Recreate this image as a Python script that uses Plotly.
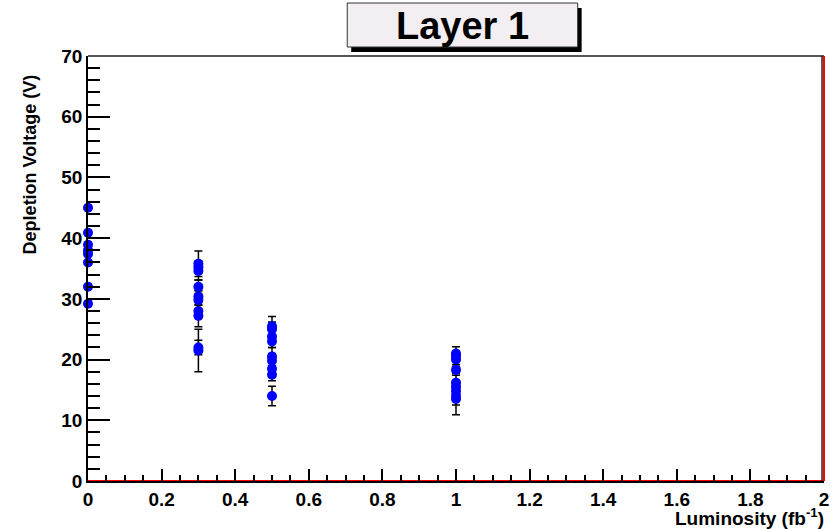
import plotly.graph_objects as go

# Data
lumi_0 = [0.0] * 8
volt_0 = [45.0, 40.9, 38.9, 38.0, 37.4, 36.0, 32.0, 29.2]
err_0 = [0.4, 0.4, 0.4, 0.4, 0.4, 0.4, 0.4, 0.4]

lumi_03 = [0.3] * 10
volt_03 = [35.8, 35.2, 34.6, 32.0, 30.4, 29.8, 28.0, 27.2, 22.0, 21.5]
err_03 = [2.1, 1.0, 1.5, 1.1, 1.0, 1.5, 1.0, 1.8, 1.2, 3.5]

lumi_05 = [0.5] * 9
volt_05 = [25.5, 25.0, 23.8, 23.0, 20.5, 19.8, 18.5, 17.5, 14.0]
err_05 = [1.6, 1.2, 1.0, 1.0, 1.5, 1.2, 1.0, 1.0, 1.6]

lumi_1 = [1.0] * 9
volt_1 = [21.0, 20.6, 20.0, 18.3, 16.2, 15.5, 14.8, 14.0, 13.5]
err_1 = [1.1, 0.8, 0.8, 0.6, 1.2, 1.0, 1.0, 1.5, 2.6]

fit_x = [0.0, 2.0, 2.0]
fit_y = [0.0, 0.0, 70.0]

x_ticks = [0, 0.2, 0.4, 0.6, 0.8, 1.0, 1.2, 1.4, 1.6, 1.8, 2.0]
x_labels = ["0", "0.2", "0.4", "0.6", "0.8", "1", "1.2", "1.4", "1.6", "1.8", "2"]
y_ticks = [0, 10, 20, 30, 40, 50, 60, 70]

lumi = lumi_0 + lumi_03 + lumi_05 + lumi_1
volt = volt_0 + volt_03 + volt_05 + volt_1
errs = err_0 + err_03 + err_05 + err_1

W, H = 838, 529
L, R, T, B = 88, 829, 56, 481
X_MAX, Y_MAX = 2.0, 70.0

fig = go.Figure()
fig.add_trace(go.Scatter(
    x=fit_x, y=fit_y, mode="lines", cliponaxis=False,
    line=dict(color="#ff0000", width=2), showlegend=False, hoverinfo="skip"))
fig.add_trace(go.Scatter(
    x=lumi, y=volt, mode="markers", cliponaxis=False,
    marker=dict(color="#0000ff", size=10, line=dict(width=0)),
    error_y=dict(type="data", array=errs, visible=True, color="black",
                 thickness=1.5, width=4),
    showlegend=False))

font_family = "Liberation Sans, Arial, sans-serif"

def px_x(p):
    return (p - L) / (R - L)

def px_y(p):
    return (B - p) / (B - T)

shapes = [
    # title box shadow
    dict(type="rect", xref="paper", yref="paper",
         x0=px_x(353), x1=px_x(585), y0=px_y(52), y1=px_y(8),
         fillcolor="black", line=dict(width=0), layer="above"),
    # title box
    dict(type="rect", xref="paper", yref="paper",
         x0=px_x(349), x1=px_x(581), y0=px_y(47), y1=px_y(3),
         fillcolor="#f2eef2", line=dict(color="#333333", width=1), layer="above"),
    # top frame line
    dict(type="line", xref="paper", yref="paper",
         x0=0, x1=1, y0=1, y1=1, line=dict(color="#555555", width=2)),
    # right frame (dark) just inside
    dict(type="line", xref="paper", yref="paper",
         x0=px_x(R - 2), x1=px_x(R - 2), y0=0, y1=1,
         line=dict(color="#222222", width=1.5)),
    # vertical part of the red curve (at the axis edge, drawn unclipped)
    dict(type="line", xref="paper", yref="paper",
         x0=fit_x[2] / X_MAX, x1=fit_x[2] / X_MAX,
         y0=fit_y[1] / Y_MAX, y1=fit_y[2] / Y_MAX,
         line=dict(color="#ff0000", width=2)),
]

annotations = [
    dict(text="<b>Layer 1</b>", xref="paper", yref="paper",
         x=px_x(465), y=px_y(26), xanchor="center", yanchor="middle",
         showarrow=False, font=dict(family=font_family, size=38, color="black")),
    dict(text="<b>Depletion Voltage (V)</b>", xref="paper", yref="paper",
         x=px_x(30), y=px_y(164), xanchor="center", yanchor="middle",
         textangle=-90, showarrow=False,
         font=dict(family=font_family, size=18, color="black")),
    dict(text="<b>Luminosity (fb<sup>-1</sup>)</b>", xref="paper", yref="paper",
         x=px_x(831), y=px_y(517), xanchor="right", yanchor="middle",
         showarrow=False,
         font=dict(family=font_family, size=19, color="black")),
]

fig.update_layout(
    width=W, height=H,
    margin=dict(l=L, r=W - R, t=T, b=H - B, pad=0),
    paper_bgcolor="white", plot_bgcolor="white",
    shapes=shapes, annotations=annotations,
    xaxis=dict(range=[0, X_MAX], tickvals=x_ticks, ticktext=x_labels,
               ticks="inside", ticklen=12, tickwidth=1.5, tickcolor="black",
               minor=dict(dtick=0.05, ticks="inside", ticklen=6, tickwidth=1.5,
                          tickcolor="black", showgrid=False),
               showgrid=False, zeroline=False, showline=True,
               linecolor="black", linewidth=1.5,
               tickfont=dict(family=font_family, size=19, color="black", weight="bold")),
    yaxis=dict(range=[0, Y_MAX], tickvals=y_ticks,
               ticks="inside", ticklen=22, tickwidth=1.5, tickcolor="black",
               minor=dict(dtick=2, ticks="inside", ticklen=12, tickwidth=1.5,
                          tickcolor="black", showgrid=False),
               showgrid=False, zeroline=False, showline=True,
               linecolor="black", linewidth=1.5,
               tickfont=dict(family=font_family, size=19, color="black", weight="bold")),
)

fig.write_html("out.html")
